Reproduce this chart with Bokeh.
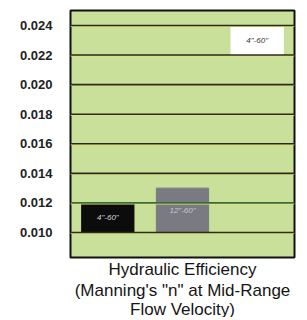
from bokeh.plotting import figure
from bokeh.models import Range1d, FixedTicker, NumeralTickFormatter, Title, ColumnDataSource, Span
from bokeh.embed import file_html
from bokeh.resources import INLINE

# data
ticks = [0.010, 0.012, 0.014, 0.016, 0.018, 0.020, 0.022, 0.024]
bar_idx = [0, 1, 2]
bar_labels = ['4"-60"', '12"-60"', '4"-60"']
bar_bottom = [0.010, 0.010, 0.022]
bar_top = [0.012, 0.013, 0.024]
bar_colors = ["#0c0c0c", "#7a7a82", "#ffffff"]
label_colors = ["#d8d8d8", "#c8c8cc", "#333333"]
title_lines = ["Hydraulic Efficiency", "(Manning's \"n\" at Mid-Range", "Flow Velocity)"]

y0, y1 = 0.00831, 0.02501
p = figure(output_backend="svg", toolbar_location=None,
           frame_width=224, frame_height=247,
           x_range=Range1d(-0.5, 2.5), y_range=Range1d(y0, y1),
           min_border_left=70, min_border_top=10, min_border_right=4, min_border_bottom=8)
p.background_fill_color = "#c8e09a"
p.border_fill_color = "white"
p.outline_line_color = "#111111"
p.outline_line_width = 2
p.xaxis.visible = False
p.xgrid.visible = False
p.ygrid.visible = False

ax = p.yaxis[0]
ax.ticker = FixedTicker(ticks=ticks)
ax.formatter = NumeralTickFormatter(format="0.000")
ax.axis_line_color = None
ax.major_tick_line_color = None
ax.minor_tick_line_color = None
ax.major_label_text_font = "Liberation Sans"
ax.major_label_text_font_style = "bold"
ax.major_label_text_font_size = "13px"
ax.major_label_text_color = "#222222"
ax.major_label_standoff = 12

for t in ticks:
    col = "#3d6b3d" if abs(t - 0.012) < 1e-9 else "#2a2a20"
    p.add_layout(Span(location=t - 0.00005, dimension="width", line_color="#e6e070", line_width=1.5))
    p.add_layout(Span(location=t, dimension="width", line_color=col, line_width=1.6))

src = ColumnDataSource(dict(x=bar_idx, bottom=bar_bottom, top=bar_top, color=bar_colors,
                            label=bar_labels, lc=label_colors,
                            mid=[(b + t) / 2 for b, t in zip(bar_bottom, bar_top)]))
p.vbar(x="x", width=0.7, bottom="bottom", top="top", fill_color="color", line_color="color", source=src)
p.text(x="x", y="mid", text="label", text_color="lc", text_align="center", text_baseline="middle",
       text_font_size="8px", text_font_style="italic", source=src)

for i, line in enumerate(title_lines):
    p.add_layout(Title(text=line, align="center", text_font="Liberation Sans", text_font_size="17px",
                       text_font_style="normal", text_color="#151515",
                       standoff=1 if i == 0 else -2, offset=0), "below")

open("out.html", "w").write(file_html(p, INLINE))
